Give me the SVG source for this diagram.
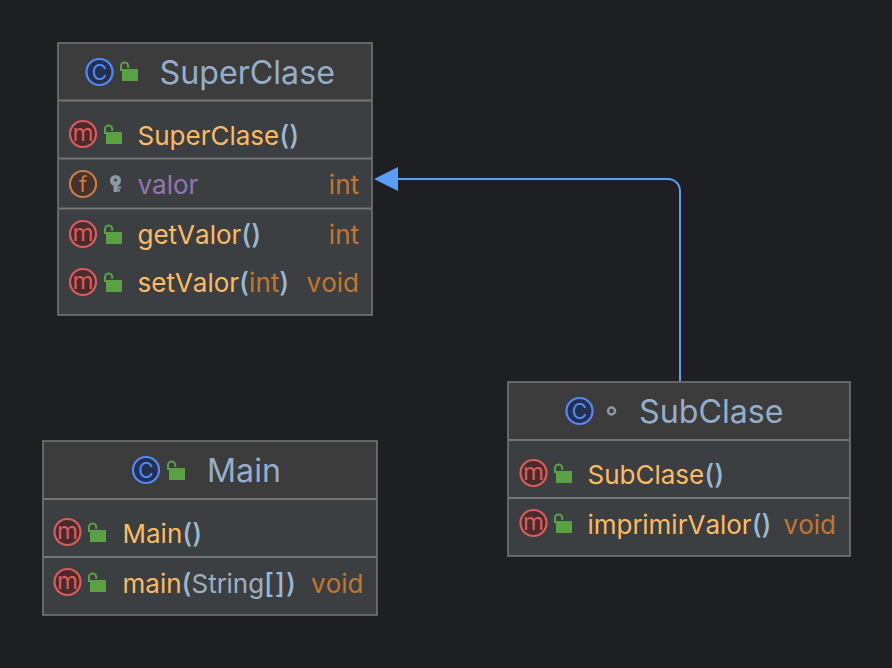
<svg xmlns="http://www.w3.org/2000/svg" xmlns:xlink="http://www.w3.org/1999/xlink" width="892" height="668" viewBox="0 0 892 668">
<style>
text{font-family:Inter,"Noto Sans","Liberation Sans",sans-serif;font-kerning:none}
.body{fill:#3c3f41;stroke:#7a7a7a;stroke-width:1.5}
.head{fill:#3c3c3c}
.sep{stroke:#757575;stroke-width:2}
.title{font-size:32.2px;fill:#94aecb}
.t{font-size:26px}
.m{fill:#fcbb61}
.p{fill:#9bb8d3;font-weight:500;font-size:27px}
.r{fill:#c5752e}
.s{fill:#9eb0c2}
.v{fill:#9676ac}
.glyph{text-anchor:middle}
</style>
<defs>
<g id="ic-c"><circle r="13" fill="#24304f" stroke="#548af7" stroke-width="2.2"/><text class="glyph" y="7.500" font-size="21" fill="#548af7">C</text></g>
<g id="ic-m"><circle r="13" fill="#4a2a2c" stroke="#db5c5c" stroke-width="2.2"/><text class="glyph" y="6.500" font-size="24" fill="#db5c5c">m</text></g>
<g id="ic-f"><circle r="13" fill="#45322a" stroke="#c77d4b" stroke-width="2.2"/><text class="glyph" y="8" font-size="22" fill="#c77d4b">f</text></g>
<g id="ic-lock"><rect x="-7" y="-3" width="16" height="12" fill="#59a143"/><path d="M-8-1v-5a3.600 3.600 0 0 1 7.200 0v2" fill="none" stroke="#59a143" stroke-width="2"/></g>
</defs>
<rect width="892" height="668" fill="#1e1f22"/>
<g id="connectors">
<path d="M680 381V191A12 12 0 0 0 668 179H398" fill="none" stroke="#589df6" stroke-width="2"/>
<path d="M374 179L398 167V191Z" fill="#589df6"/>
</g>
<g id="SuperClase">
<rect class="body" x="58" y="43" width="314" height="272"/>
<rect class="head" x="59" y="44" width="312" height="56"/>
<path class="sep" d="M59 100.500H371M59 158.500H371M59 208.500H371"/>
<use xlink:href="#ic-c" href="#ic-c" x="99.500" y="72"/>
<use xlink:href="#ic-lock" href="#ic-lock" x="129" y="72"/>
<text class="title" x="159.500" y="84">SuperClase</text>
<use xlink:href="#ic-m" href="#ic-m" x="83" y="134"/>
<use xlink:href="#ic-lock" href="#ic-lock" x="113" y="135"/>
<text class="t m" x="137.500" y="144.500">SuperClase<tspan class="p">()</tspan></text>
<use xlink:href="#ic-f" href="#ic-f" x="83" y="184"/>
<g fill="#8c9aa6"><circle cx="115.500" cy="180.500" r="5.500"/><path d="M113.500 183h4v9h-4zM117 186.500h4v2h-4zM117 189.500h3v2h-3z"/></g>
<circle cx="115.500" cy="180" r="1.600" fill="#3c3f41"/>
<text class="t v" x="137.500" y="193.500">valor</text>
<text class="t r" x="359" y="193.500" text-anchor="end">int</text>
<use xlink:href="#ic-m" href="#ic-m" x="83" y="234"/>
<use xlink:href="#ic-lock" href="#ic-lock" x="113" y="235"/>
<text class="t m" x="137.500" y="243.500">getValor<tspan class="p">()</tspan></text>
<text class="t r" x="359" y="243.500" text-anchor="end">int</text>
<use xlink:href="#ic-m" href="#ic-m" x="83" y="282"/>
<use xlink:href="#ic-lock" href="#ic-lock" x="113" y="283"/>
<text class="t m" x="137.500" y="291.500">setValor<tspan class="p">(</tspan><tspan class="r">int</tspan><tspan class="p">)</tspan></text>
<text class="t r" x="359" y="291.500" text-anchor="end">void</text>
</g>
<g id="SubClase">
<rect class="body" x="508" y="382" width="342" height="174"/>
<rect class="head" x="509" y="383" width="340" height="57"/>
<path class="sep" d="M509 440H849M509 498H849"/>
<use xlink:href="#ic-c" href="#ic-c" x="579.500" y="411"/>
<circle cx="611.500" cy="411" r="3.500" fill="none" stroke="#8c9aa6" stroke-width="2.500"/>
<text class="title" x="639" y="423">SubClase</text>
<use xlink:href="#ic-m" href="#ic-m" x="533.500" y="473"/>
<use xlink:href="#ic-lock" href="#ic-lock" x="563" y="474"/>
<text class="t m" x="587.500" y="483.500">SubClase<tspan class="p">()</tspan></text>
<use xlink:href="#ic-m" href="#ic-m" x="533.500" y="523"/>
<use xlink:href="#ic-lock" href="#ic-lock" x="563" y="524"/>
<text class="t m" x="587.500" y="533.500">imprimirValor<tspan class="p">()</tspan></text>
<text class="t r" x="836" y="533.500" text-anchor="end">void</text>
</g>
<g id="Main">
<rect class="body" x="43" y="441" width="334" height="174"/>
<rect class="head" x="44" y="442" width="332" height="57"/>
<path class="sep" d="M44 499H376M44 557H376"/>
<use xlink:href="#ic-c" href="#ic-c" x="146" y="470"/>
<use xlink:href="#ic-lock" href="#ic-lock" x="176" y="471"/>
<text class="title" x="207" y="482">Main</text>
<use xlink:href="#ic-m" href="#ic-m" x="67.500" y="532"/>
<use xlink:href="#ic-lock" href="#ic-lock" x="97" y="533"/>
<text class="t m" x="122.500" y="542.500">Main<tspan class="p">()</tspan></text>
<use xlink:href="#ic-m" href="#ic-m" x="67.500" y="582"/>
<use xlink:href="#ic-lock" href="#ic-lock" x="97" y="583"/>
<text class="t m" x="122.500" y="592.500">main<tspan class="p">(</tspan><tspan class="s">String</tspan><tspan class="p" letter-spacing="1">[])</tspan></text>
<text class="t r" x="363.500" y="592.500" text-anchor="end">void</text>
</g>
</svg>
